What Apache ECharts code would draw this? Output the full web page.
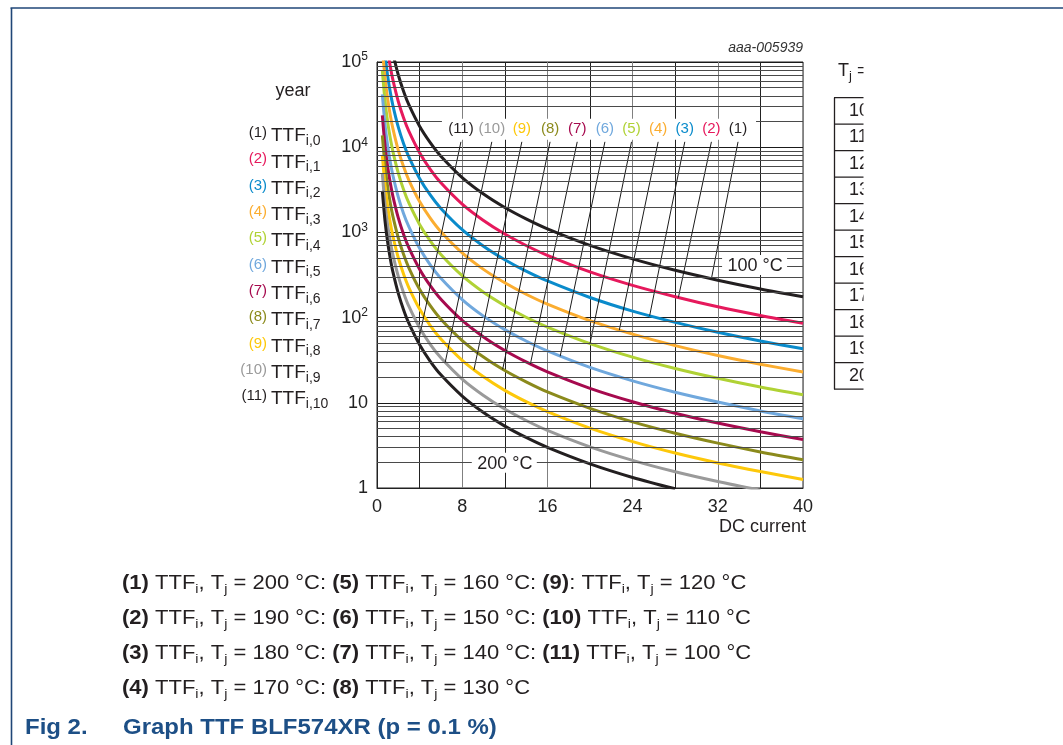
<!DOCTYPE html>
<html>
<head>
<meta charset="utf-8">
<script src="https://cdn.jsdelivr.net/npm/echarts@6/dist/echarts.min.js"></script>
<style>
html, body { margin: 0; padding: 0; background: #fff; }
#ttf_chart { width: 1063px; height: 745px; }
</style>
</head>
<body>
<div id="ttf_chart"></div>
<script>
// DC current samples (x) and TTF, one list per curve
var currents = [0.5, 0.75, 1, 1.25, 1.5, 2, 2.5, 3, 4, 5, 6, 8, 10, 12, 14, 16, 20, 24, 28, 32, 36, 40];

var ttf_200 = [null, null, null, null, 125000, 70400, 45100, 31300, 17600, 11300, 7820, 4400, 2820, 1960, 1440, 1100, 704, 489, 359, 275, 217, 176];
var ttf_190 = [null, null, 137600, 88100, 61200, 34400, 22000, 15300, 8600, 5500, 3820, 2150, 1380, 956, 702, 538, 344, 239, 176, 134, 106, 86];
var ttf_180 = [null, 122300, 68800, 44000, 30600, 17200, 11000, 7640, 4300, 2750, 1910, 1075, 688, 478, 351, 269, 172, 119, 87.8, 67.2, 53.1, 43];
var ttf_170 = [147200, 65400, 36800, 23600, 16400, 9200, 5890, 4090, 2300, 1470, 1020, 575, 368, 256, 188, 144, 92, 63.9, 46.9, 35.9, 28.4, 23];
var ttf_160 = [79400, 35300, 19840, 12700, 8820, 4960, 3170, 2200, 1240, 794, 551, 310, 198, 138, 101, 77.5, 49.6, 34.4, 25.3, 19.4, 15.3, 12.4];
var ttf_150 = [41600, 18500, 10400, 6660, 4620, 2600, 1660, 1160, 650, 416, 289, 163, 104, 72.2, 53.1, 40.6, 26, 18.1, 13.3, 10.2, 8.02, 6.5];
var ttf_140 = [23700, 10500, 5920, 3790, 2630, 1480, 947, 658, 370, 237, 164, 92.5, 59.2, 41.1, 30.2, 23.1, 14.8, 10.3, 7.55, 5.78, 4.57, 3.7];
var ttf_130 = [13760, 6120, 3440, 2200, 1530, 860, 550, 382, 215, 138, 95.6, 53.8, 34.4, 23.9, 17.6, 13.4, 8.6, 5.97, 4.39, 3.36, 2.65, 2.15];
var ttf_120 = [8060, 3580, 2016, 1290, 896, 504, 323, 224, 126, 80.6, 56, 31.5, 20.2, 14, 10.3, 7.88, 5.04, 3.5, 2.57, 1.97, 1.56, 1.26];
var ttf_110 = [4860, 2160, 1216, 778, 540, 304, 195, 135, 76, 48.6, 33.8, 19, 12.2, 8.44, 6.2, 4.75, 3.04, 2.11, 1.55, 1.19, 0.94, null];
var ttf_100 = [3070, 1370, 768, 492, 341, 192, 123, 85.3, 48, 30.7, 21.3, 12, 7.68, 5.33, 3.92, 3, 1.92, 1.33, 0.98, null, null, null];

var curveNums = ['(1)', '(2)', '(3)', '(4)', '(5)', '(6)', '(7)', '(8)', '(9)', '(10)', '(11)'];
var curveSubs = ['i,0', 'i,1', 'i,2', 'i,3', 'i,4', 'i,5', 'i,6', 'i,7', 'i,8', 'i,9', 'i,10'];

// leader lines from the (n) labels down to each curve
var leaderTopX = [33.9, 31.4, 28.9, 26.4, 23.9, 21.4, 18.8, 16.25, 13.6, 10.78, 7.88];
var leaderTopTTF = 11560;
var leaderEndX = [31.4, 28.3, 25.6, 22.75, 20.0, 17.2, 14.4, 11.8, 9.1, 6.4, 3.87];
var leaderEndTTF = [286, 172, 105, 71.1, 49.6, 35.2, 28.5, 24.7, 24.3, 29.7, 51];

// tick labels
var xTickLabels = [0, 8, 16, 24, 32, 40];
var yTickLabels = ['1', '10', '10^2', '10^3', '10^4', '10^5'];
var decades = [1, 10, 100, 1000, 10000];
var minorSteps = [2, 3, 4, 5, 6, 7, 8, 9];
var tableRows = ['100', '110', '120', '130', '140', '150', '160', '170', '180', '190', '200'];

var captionLines = [
    '{b|(1)} TTF{s|i}, T{s|j} = 200 °C: {b|(5)} TTF{s|i}, T{s|j} = 160 °C: {b|(9)}: TTF{s|i}, T{s|j} = 120 °C',
    '{b|(2)} TTF{s|i}, T{s|j} = 190 °C: {b|(6)} TTF{s|i}, T{s|j} = 150 °C: {b|(10)} TTF{s|i}, T{s|j} = 110 °C',
    '{b|(3)} TTF{s|i}, T{s|j} = 180 °C: {b|(7)} TTF{s|i}, T{s|j} = 140 °C: {b|(11)} TTF{s|i}, T{s|j} = 100 °C',
    '{b|(4)} TTF{s|i}, T{s|j} = 170 °C: {b|(8)} TTF{s|i}, T{s|j} = 130 °C'
];

var allCurves = [ttf_200, ttf_190, ttf_180, ttf_170, ttf_160, ttf_150, ttf_140, ttf_130, ttf_120, ttf_110, ttf_100];
var colors = ['#231f20', '#e6195c', '#0a8bcb', '#fbad30', '#b0d235', '#70a8dd', '#a60a4e', '#8b8a1c', '#fdc80a', '#9a9a9a', '#231f20'];
var FONT = '"Liberation Sans", Arial, sans-serif';

var chart = echarts.init(document.getElementById('ttf_chart'));

// minor log grid lines (2..9 in each decade)
var minorLines = [];
decades.forEach(function (d) {
    minorSteps.forEach(function (k) {
        minorLines.push({ yAxis: k * d });
    });
});

var series = [{
    name: 'grid',
    type: 'line',
    data: [[0, 1]],
    symbol: 'none',
    lineStyle: { opacity: 0 },
    silent: true,
    z: 1,
    markLine: {
        silent: true,
        symbol: ['none', 'none'],
        label: { show: false },
        lineStyle: { type: 'solid', color: '#4a4a4a', width: 1 },
        emphasis: { disabled: true },
        data: minorLines
    }
}];

allCurves.forEach(function (arr, i) {
    var pts = [];
    currents.forEach(function (c, j) {
        if (arr[j] !== null) pts.push([c, arr[j]]);
    });
    series.push({
        name: 'TTF ' + curveSubs[i],
        type: 'line',
        data: pts,
        symbol: 'none',
        smooth: 0.3,
        clip: true,
        z: 3,
        lineStyle: { color: colors[i], width: 3 }
    });
});

allCurves.forEach(function (arr, i) {
    series.push({
        name: 'leader ' + curveNums[i],
        type: 'line',
        data: [[leaderTopX[i], leaderTopTTF], [leaderEndX[i], leaderEndTTF[i]]],
        symbol: 'none',
        z: 4,
        silent: true,
        lineStyle: { color: '#1a1a1a', width: 1 }
    });
});

var option = {
    animation: false,
    backgroundColor: '#fff',
    grid: {
        left: 377,
        top: 62,
        width: 426,
        height: 426,
        show: true,
        borderColor: '#222',
        borderWidth: 1
    },
    xAxis: {
        type: 'value',
        min: 0,
        max: 40,
        interval: 4,
        axisLine: { show: true, lineStyle: { color: '#222', width: 1 } },
        axisTick: { show: false },
        axisLabel: {
            margin: 10,
            fontSize: 18,
            fontFamily: FONT,
            color: '#222',
            formatter: function (v) {
                return xTickLabels.indexOf(v) >= 0 ? String(v) : '';
            }
        },
        splitLine: { show: true, lineStyle: { color: ['#808080', '#222'], width: 1 } }
    },
    yAxis: {
        type: 'log',
        logBase: 10,
        min: 1,
        max: 100000,
        axisLine: { show: true, lineStyle: { color: '#222', width: 1 } },
        axisTick: { show: false },
        axisLabel: {
            margin: 9,
            color: '#222',
            formatter: function (v) {
                var idx = Math.round(Math.log10(v));
                var parts = yTickLabels[idx].split('^');
                return parts.length > 1 ? '{b|' + parts[0] + '}{s|' + parts[1] + '}' : '{b|' + parts[0] + '}';
            },
            rich: {
                b: { fontSize: 18, fontFamily: FONT, color: '#222', lineHeight: 22 },
                s: { fontSize: 12, fontFamily: FONT, color: '#222', lineHeight: 12, padding: [0, 0, 10, 0] }
            }
        },
        splitLine: { show: true, lineStyle: { color: '#1a1a1a', width: 1 } }
    },
    series: series
};

chart.setOption(option);

function toPx(x, y) {
    return chart.convertToPixel({ xAxisIndex: 0, yAxisIndex: 0 }, [x, y]);
}

function txt(x, y, text, opts) {
    opts = opts || {};
    return {
        type: 'text',
        x: x,
        y: y,
        scaleX: opts.scaleX || 1,
        z: opts.z || 101,
        silent: true,
        style: {
            text: text,
            fill: opts.fill || '#231f20',
            fontSize: opts.size || 18,
            fontFamily: FONT,
            fontWeight: opts.weight || 'normal',
            fontStyle: opts.italic ? 'italic' : 'normal',
            align: opts.align || 'left',
            textAlign: opts.align || 'left',
            verticalAlign: 'middle',
            textVerticalAlign: 'middle',
            lineHeight: opts.lineHeight,
            rich: opts.rich
        }
    };
}

function whiteRect(x, y, w, h, z) {
    return {
        type: 'rect',
        z: z || 100,
        silent: true,
        shape: { x: x, y: y, width: w, height: h },
        style: { fill: '#fff' }
    };
}

var g = [];

// white band behind the (n) labels
var firstTop = toPx(leaderTopX[10], leaderTopTTF);
var lastTop = toPx(leaderTopX[0], leaderTopTTF);
g.push(whiteRect(firstTop[0] - 19, firstTop[1] - 23, lastTop[0] - firstTop[0] + 37, 21));
leaderTopX.forEach(function (x, i) {
    var p = toPx(x, leaderTopTTF);
    g.push(txt(p[0], p[1] - 13, curveNums[i], { size: 15, align: 'center', fill: colors[i] }));
});

// temperature markers on the curves
var p100 = toPx(35.5, 415);
g.push(whiteRect(p100[0] - 33, p100[1] - 10, 65, 20));
g.push(txt(p100[0], p100[1] + 1, '100 °C', { size: 18, align: 'center' }));
var p200 = toPx(12.0, 1.98);
g.push(whiteRect(p200[0] - 33, p200[1] - 10, 65, 20));
g.push(txt(p200[0], p200[1] + 1, '200 °C', { size: 18, align: 'center' }));

// axis titles and id
g.push(txt(293, 91, 'year', { size: 18, align: 'center' }));
g.push(txt(806, 527, 'DC current', { size: 18, align: 'right' }));
g.push(txt(803, 48, 'aaa-005939', { size: 14, align: 'right', italic: true, fill: '#333' }));

// left legend
curveNums.forEach(function (n, i) {
    var y = 136 + i * 26.3;
    g.push(txt(267, y - 3, n, { size: 15, align: 'right', fill: colors[i] }));
    g.push(txt(271, y, '{t|TTF}{s|' + curveSubs[i] + '}', {
        size: 19,
        rich: {
            t: { fontSize: 19, fontFamily: FONT, color: '#231f20', lineHeight: 24 },
            s: { fontSize: 14, fontFamily: FONT, color: '#231f20', lineHeight: 14, padding: [10, 0, 0, 0] }
        }
    }));
});

// partial table on the right (clipped by the page)
g.push(txt(838, 71, '{t|T}{s|j}{t| =}', {
    size: 18,
    rich: {
        t: { fontSize: 18, fontFamily: FONT, color: '#231f20', lineHeight: 24 },
        s: { fontSize: 13, fontFamily: FONT, color: '#231f20', lineHeight: 13, padding: [11, 0, 0, 0] }
    }
}));
var rowTop = 97.7, rowH = 26.5;
g.push({
    type: 'line', z: 99, silent: true,
    shape: { x1: 834.5, y1: rowTop, x2: 834.5, y2: rowTop + rowH * tableRows.length },
    style: { stroke: '#231f20', lineWidth: 1.3 }
});
for (var r = 0; r <= tableRows.length; r++) {
    g.push({
        type: 'line', z: 99, silent: true,
        shape: { x1: 834, y1: rowTop + r * rowH, x2: 870, y2: rowTop + r * rowH },
        style: { stroke: '#231f20', lineWidth: 1.3 }
    });
}
tableRows.forEach(function (t, i) {
    g.push(txt(849, rowTop + i * rowH + rowH / 2, t, { size: 18, z: 99 }));
});
g.push(whiteRect(863.5, 30, 200, 400, 102));

// caption (the source typesets it wider than the chart text)
var capRich = {
    b: { fontSize: 20, fontFamily: FONT, fontWeight: 'bold', color: '#231f20', lineHeight: 26 },
    s: { fontSize: 13, fontFamily: FONT, color: '#231f20', lineHeight: 13, padding: [13, 0, 0, 0] }
};
captionLines.forEach(function (line, i) {
    g.push(txt(122, 583 + i * 35, line, { size: 20, lineHeight: 26, rich: capRich, scaleX: 1.1 }));
});
g.push(txt(25, 728, 'Fig 2.', { size: 22, weight: 'bold', fill: '#1d4f86', scaleX: 1.09 }));
g.push(txt(123, 728, 'Graph TTF BLF574XR (p = 0.1 %)', { size: 22, weight: 'bold', fill: '#1d4f86', scaleX: 1.09 }));

// page frame
g.push({
    type: 'line', z: 103, silent: true,
    shape: { x1: 10.5, y1: 8, x2: 1063, y2: 8 },
    style: { stroke: '#1f4677', lineWidth: 1.6 }
});
g.push({
    type: 'line', z: 103, silent: true,
    shape: { x1: 11.5, y1: 8, x2: 11.5, y2: 745 },
    style: { stroke: '#1f4677', lineWidth: 1.6 }
});

chart.setOption({ graphic: { elements: g } });
</script>
</body>
</html>
